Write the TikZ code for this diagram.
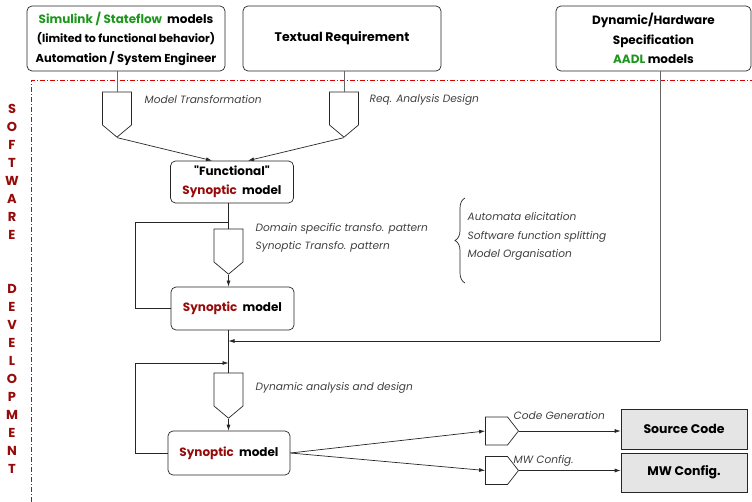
\documentclass[tikz,border=0pt]{standalone}
\usepackage{fontspec}
\setmainfont{Poppins}[Ligatures=TeXOff]
\usetikzlibrary{arrows.meta,shapes.symbols,decorations.pathreplacing}

\definecolor{simgreen}{RGB}{30,150,30}
\definecolor{synred}{RGB}{150,10,10}
\definecolor{framered}{RGB}{215,0,0}
\newcommand{\syn}{\textcolor{synred}{Synoptic}}

\begin{document}
\begin{tikzpicture}[x=1pt,y=-1pt,>={Latex[length=6pt,width=4pt]},line width=0.7pt,
	model/.style={draw, black!85, text=black, rounded corners=5pt, align=center, inner sep=0pt,
		font=\fontsize{12}{19.5}\selectfont\bfseries},
	result/.style={draw, black!85, text=black, fill=black!10, align=center, inner sep=0pt,
		minimum width=126pt, font=\fontsize{12.5}{14}\selectfont\bfseries},
	gate/.style={draw, black!85, signal, signal to=south, signal pointer angle=100,
		minimum width=29pt, minimum height=33pt, inner sep=0pt},
	gateright/.style={draw, black!85, signal, signal to=east, signal pointer angle=104,
		minimum width=33pt, minimum height=28pt, inner sep=0pt},
	lbl/.style={anchor=west, align=left, text=black!75, font=\fontsize{10.6}{18.5}\selectfont\itshape}]
	\useasboundingbox (0,0) rectangle (752,502);

	% software development frame
	\draw[draw=framered, line width=1pt, dash pattern=on 5pt off 2pt on 1pt off 2pt] (31,502) -- (31,81) -- (752,81);
	\node[text=synred, align=center, font=\fontsize{13}{18}\selectfont\bfseries] (side) at (12,289)
		{S\\O\\F\\T\\W\\A\\R\\E\\ \\ \\D\\E\\V\\E\\L\\O\\P\\M\\E\\N\\T};

	% inputs
	\node[model, minimum width=198pt, minimum height=65pt] (simulink) at (126,38.5)
		{\textcolor{simgreen}{Simulink / Stateflow}\ \ models\\
		{\fontsize{11}{19.5}\selectfont (limited to functional behavior)}\\
		{\fontsize{11.5}{19.5}\selectfont Automation / System Engineer}};
	\node[model, minimum width=198pt, minimum height=65pt, font=\fontsize{12.5}{19.5}\selectfont\bfseries] (textreq) at (342,38.5)
		{Textual Requirement};
	\node[model, minimum width=195pt, minimum height=65pt] (dynspec) at (653.5,38.5)
		{Dynamic/Hardware\\Specification\\\textcolor{simgreen}{AADL} models};

	% models
	\node[model, minimum width=123pt, minimum height=42pt] (functional) at (232,182)
		{"Functional"\\\syn\ \ model};
	\node[model, minimum width=123pt, minimum height=43pt] (synoptic) at (232.5,308.5)
		{\syn\ \ model};
	\node[model, minimum width=122pt, minimum height=44pt] (dynsynoptic) at (229,453)
		{\syn\ \ model};

	% outputs
	\node[result, minimum height=40pt] (source) at (684,429) {Source Code};
	\node[result, minimum height=39pt] (mwconfig) at (684,472.5) {MW Config.};

	% transformations
	\node[gate] (modeltransfo) at (117,108.5) {};
	\node[gate] (reqanalysis) at (344,108.5) {};
	\node[gate] (pattern) at (228.5,245.5) {};
	\node[gate] (dynanalysis) at (228.5,389.5) {};
	\node[gateright] (codegen) at (496.5,431) {};
	\node[gateright] (mwgen) at (496.5,470.5) {};

	\node[lbl] (modeltransfolbl) at (141,100) {Model Transformation};
	\node[lbl] (reqanalysislbl) at (366,100) {Req. Analysis Design};
	\node[lbl] (patternlbl) at (252,238) {Domain specific transfo. pattern\\Synoptic Transfo. pattern};
	\node[lbl] (tasks) at (464,236.5) {Automata elicitation\\Software function splitting\\Model Organisation};
	\node[lbl] (dynanalysislbl) at (252,388) {Dynamic analysis and design};
	\node[lbl] (codegenlbl) at (510,416) {Code Generation};
	\node[lbl] (mwgenlbl) at (510,461) {MW Config.};

	\draw[black!85, decorate, decoration={brace, amplitude=10pt}] (465,283) -- (465,198);

	% flows
	\draw[black!60] (modeltransfo.north |- simulink.south) -- (modeltransfo.north);
	\draw[black!60] (reqanalysis.north |- textreq.south) -- (reqanalysis.north);
	\draw[->, black!85] (modeltransfo.south) -- ([xshift=-20pt]functional.north);
	\draw[->, black!85] (reqanalysis.south) -- ([xshift=16pt]functional.north);

	\draw[black!85] (pattern.north |- functional.south) -- (pattern.north);
	\draw[->, black!85] (pattern.south) -- (pattern.south |- synoptic.north);
	\coordinate (loopa) at (135,222);
	\draw[black!85] (synoptic.west) -| (loopa) -- (loopa -| pattern);

	\coordinate (aadl) at (660,341);
	\draw[black!60] (dynspec.south -| aadl) -- (aadl);
	\draw[->, black!85] (aadl) -- (aadl -| dynanalysis);
	\draw[black!85] (dynanalysis.north |- synoptic.south) -- (dynanalysis.north);
	\draw[->, black!85] (dynanalysis.south) -- (dynanalysis.south |- dynsynoptic.north);
	\coordinate (loopb) at (135,363);
	\draw[->, black!85] (dynsynoptic.west) -| (loopb) -- (loopb -| dynanalysis);

	\draw[->, black!85] (dynsynoptic.east) -- (codegen.west);
	\draw[->, black!85] (dynsynoptic.east) -- (mwgen.west);
	\draw[->, black!85] (codegen.east) -- (source.west |- codegen.east);
	\draw[->, black!85] (mwgen.east) -- (mwconfig.west |- mwgen.east);
\end{tikzpicture}
\end{document}
